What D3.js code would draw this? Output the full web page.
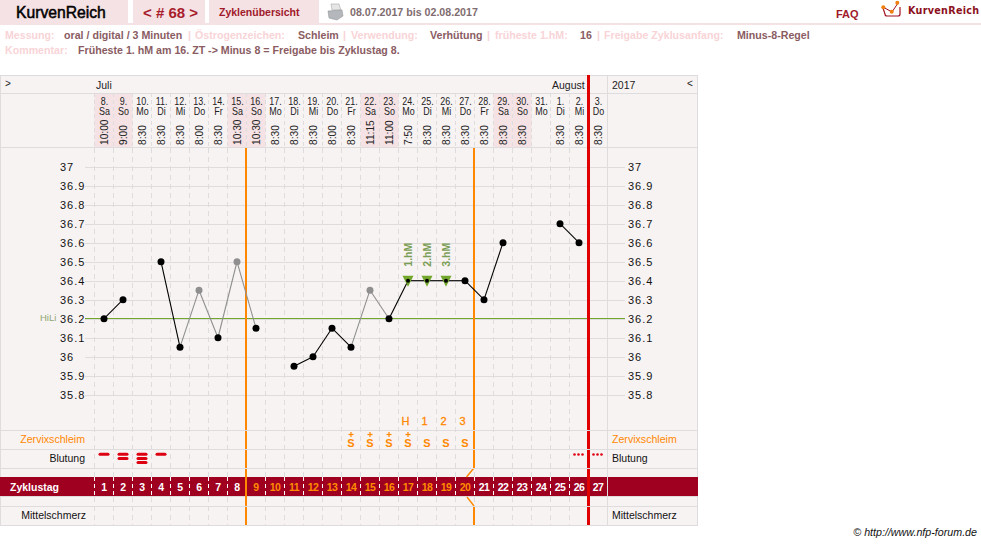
<!DOCTYPE html>
<html><head><meta charset="utf-8">
<script src="https://cdnjs.cloudflare.com/ajax/libs/d3/7.8.5/d3.min.js"></script>
<style>
html,body{margin:0;padding:0;background:#fff;overflow:hidden}
svg{display:block}
text{font-family:"Liberation Sans",Arial,sans-serif}
</style></head><body><svg id="c" width="981" height="545"></svg>
<script>
// ---- data ----
const cycleDays = d3.range(1, 28);
const dates = ["8.","9.","10.","11.","12.","13.","14.","15.","16.","17.","18.","19.","20.","21.","22.","23.","24.","25.","26.","27.","28.","29.","30.","31.","1.","2.","3."];
const weekdays = ["Sa","So","Mo","Di","Mi","Do","Fr","Sa","So","Mo","Di","Mi","Do","Fr","Sa","So","Mo","Di","Mi","Do","Fr","Sa","So","Mo","Di","Mi","Do"];
const times = ["10:00","9:00","8:30","8:30","8:30","8:00","8:30","10:30","10:30","8:30","8:30","8:30","8:00","8:30","11:15","11:00","7:50","8:30","8:30","8:30","8:30","8:30","8:30","","8:30","8:30","8:30"];
const temps = [36.2,36.3,null,36.5,36.05,36.35,36.1,36.5,36.15,null,35.95,36.0,36.15,36.05,36.35,36.2,36.4,36.4,36.4,36.4,36.3,36.6,null,null,36.7,36.6,null];
const excludedDays = [6,8,15];
const weekendDays = [1,2,8,9,15,16,22,23];
const tempTicks = [37,36.9,36.8,36.7,36.6,36.5,36.4,36.3,36.2,36.1,36,35.9,35.8];
const hiLi = 36.2;
const hmDays = [17,18,19];
const hmLabels = ["1.hM","2.hM","3.hM"];
const peakDays = [17,18,19,20];
const peakLabels = ["H","1","2","3"];
const mucusPlus = [14,15,16,17];
const mucusPlain = [18,19,20];
const bleedDays = [1,2,3,4];
const bleedLevels = [1,2,3,1];
const spotDays = [26,27];
const fertileStartDay = 8.5;
const fertileEndDay = 20.5;
const cycleEndDay = 26.5;
const headerLine1 = [["Messung:",0],["oral / digital / 3 Minuten",1],["|",0],["Östrogenzeichen:",0],["Schleim",1],["|",0],["Verwendung:",0],["Verhütung",1],["|",0],["früheste 1.hM:",0],["16",1],["|",0],["Freigabe Zyklusanfang:",0],["Minus-8-Regel",1]];
const headerLine1X = [5,64,188,195,298,343,351,430,487,495,580,597,604,737];

// ---- scales ----
const x = d3.scaleLinear().domain([1,27]).range([104,598]);
const y = d3.scaleLinear().domain([35.8,37]).range([394.7,166.7]);
const svg = d3.select("#c");
const GRID="#dedcdc", BG="#f8f3f3", PINK="#f5e2e4", DARK="#a00020", ORANGE="#ff8800", RED="#e00000", GREEN="#72a62c";
const line=(g,x1,y1,x2,y2,c,w,dash)=>g.append("line").attr("x1",x1).attr("y1",y1).attr("x2",x2).attr("y2",y2).attr("stroke",c).attr("stroke-width",w).attr("stroke-dasharray",dash||null);
const text=(g,s,px,py,o={})=>g.append("text").text(s).attr("x",px).attr("y",py).attr("font-size",o.size||11).attr("font-weight",o.bold?"bold":null).attr("font-style",o.italic?"italic":null).attr("fill",o.fill||"#111").attr("text-anchor",o.anchor||"start").style("letter-spacing",o.ls||null);

// ---- top bar ----
const topBar=svg.append("g");
[[0,128],[133,72],[209,110]].forEach(([a,w])=>topBar.append("rect").attr("x",a).attr("y",0).attr("width",w).attr("height",23).attr("fill",PINK));
topBar.append("rect").attr("x",0).attr("y",23).attr("width",981).attr("height",2).attr("fill",PINK);
text(topBar,"KurvenReich",16,18,{size:15.7,fill:"#000"}).attr("stroke","#000").attr("stroke-width",0.5);
text(topBar,"< # 68 >",143,18,{size:15,bold:true,fill:"#a81c2c"});
text(topBar,"Zyklenübersicht",219,16,{size:10.5,bold:true,fill:"#a0182a"});
text(topBar,"08.07.2017 bis 02.08.2017",350,16,{size:10.65,bold:true,fill:"#7f6c70"});
text(topBar,"FAQ",836,18,{size:11,bold:true,fill:"#a0182a"});
text(topBar,"KurvenReich",908,14,{size:9.6,bold:true,fill:"#8c1020",ls:"0.3px"}).style("font-family","'DejaVu Sans'");
// printer icon
const pr=topBar.append("g");
pr.append("path").attr("d","M331 4h8l2 6h-9z").attr("fill","#e6e6e6").attr("stroke","#aaa").attr("stroke-width",.6);
pr.append("path").attr("d","M328 11l14-1 1 6-6 4-8-2z").attr("fill","#b4b8bc").attr("stroke","#888").attr("stroke-width",.5);
// logo icon
const lg=topBar.append("g").attr("fill","none");
lg.append("path").attr("d","M883 8l2 6q0 2 2 2h11q2 0 2-2v-7").attr("stroke","#a01020").attr("stroke-width",1.2);
lg.append("path").attr("d","M883 7l9 5 6-9").attr("stroke","#a01020").attr("stroke-width",1);
[[883.3,7.3],[891.7,11.7],[897.3,2.7]].forEach(([a,b])=>lg.append("circle").attr("cx",a).attr("cy",b).attr("r",2).attr("fill","#f08010"));

// ---- settings lines ----
const info=svg.append("g");
headerLine1.forEach(([s,v],i)=>text(info,s,headerLine1X[i],39,{size:10.65,bold:true,fill:v?"#8a5c62":"#f8d4d7"}));
text(info,"Kommentar:",5,54,{size:10.65,bold:true,fill:"#f8d4d7"});
text(info,"Früheste 1. hM am 16. ZT -> Minus 8 = Freigabe bis Zyklustag 8.",78,54,{size:10.65,bold:true,fill:"#8a5c62"});

// ---- frame ----
const f=svg.append("g");
f.append("rect").attr("x",0.5).attr("y",75.5).attr("width",697).attr("height",450).attr("fill",BG).attr("stroke",GRID);
const colW=x(2)-x(1);
weekendDays.forEach(d=>f.append("rect").attr("x",x(d)-colW/2).attr("y",93).attr("width",colW).attr("height",54.5).attr("fill",PINK));
f.append("rect").attr("x",0).attr("y",477).attr("width",698).attr("height",19).attr("fill",DARK);

// row rules
const rowRules=[430.5,449.5,468.5,506.5];
[93.5,147.5,496.5].concat(rowRules).forEach(v=>line(f,0,v,697,v,GRID,1));
line(f,607.5,75,607.5,526,GRID,1);

// day separators
[0].concat(cycleDays.slice(0,-1)).forEach(d=>{
  const px=Math.floor(x(d)+colW/2)+.5;
  line(f,px,93,px,147,GRID,1,"4,3");
  line(f,px,148,px,477,GRID,1,"5,4");
  line(f,px,477,px,496,"#fff",1,"4,3");
  line(f,px,497,px,525,GRID,1,"5,4");
});

// grid & tick labels
const axisG=svg.append("g");
tempTicks.forEach(t=>{
  const py=Math.round(y(t))+.5;
  line(axisG,85,py,625,py,GRID,1);
  text(axisG,String(t),60,py+3.5,{size:11,fill:"#111",ls:"1px"});
  text(axisG,String(t),628,py+3.5,{size:11,fill:"#111",ls:"1px"});
});

// header text
text(f,">",5,86.5,{size:10,fill:"#222"});
text(f,"Juli",96,89,{size:10.5,fill:"#222"});
text(f,"August",552,89,{size:10.5,fill:"#222"});
text(f,"2017",612,89,{size:10.5,fill:"#222"});
text(f,"<",687,86.5,{size:10,fill:"#222"});
cycleDays.forEach((d,i)=>{
  const cx=x(d)+.5;
  const g=f.append("g");
  g.append("text").text(dates[i]).attr("transform",`translate(${cx},105) scale(.85,1)`).attr("text-anchor","middle").attr("font-size",10.5).attr("fill","#222");
  g.append("text").text(weekdays[i]).attr("transform",`translate(${cx},115) scale(.85,1)`).attr("text-anchor","middle").attr("font-size",10.5).attr("fill","#222");
  if(times[i]) g.append("text").text(times[i]).attr("transform",`translate(${cx+3.5},145) rotate(-90)`).attr("font-size",10.2).attr("fill","#222");
});

// row labels
text(f,"Zervixschleim",85,443,{size:10.6,fill:ORANGE,anchor:"end"});
text(f,"Blutung",85,462,{size:10.5,fill:"#111",anchor:"end"});
text(f,"Zyklustag",10,491,{size:10.5,bold:true,fill:"#fff"});
text(f,"Mittelschmerz",86,519,{size:10.5,fill:"#111",anchor:"end"});
text(f,"Zervixschleim",612,443,{size:10.6,fill:ORANGE});
text(f,"Blutung",612,462,{size:10.5,fill:"#111"});
text(f,"Mittelschmerz",612,519,{size:10.5,fill:"#111"});

// cycle numbers
cycleDays.forEach(d=>text(f,d,x(d),491,{size:10.5,bold:true,anchor:"middle",ls:"-0.5px",fill:(d>=fertileStartDay&&d<=fertileEndDay)?"#ff8c00":"#fff"}));

// HiLi
const hiY=Math.floor(y(hiLi))+.5;
line(axisG,85,hiY,625,hiY,GREEN,1.2);
text(axisG,"HiLi",40,321,{size:9.5,fill:"#8da672"});

// fertile markers
const fg=svg.append("g").attr("fill","none");
const fx=x(fertileStartDay)-.5, fx2=x(fertileEndDay)-.5;
line(fg,fx,148,fx,525,ORANGE,2);
fg.append("path").attr("d",`M${fx2} 148V468`).attr("stroke",ORANGE).attr("stroke-width",2);
fg.append("path").attr("d",`M${fx2} 468L${fx2-7.5} 477`).attr("stroke",ORANGE).attr("stroke-width",1.4);
fg.append("path").attr("d",`M${fx2-7} 497L${fx2} 506`).attr("stroke",ORANGE).attr("stroke-width",1.4);
fg.append("path").attr("d",`M${fx2} 506V525`).attr("stroke",ORANGE).attr("stroke-width",2);
line(fg,x(cycleEndDay),75,x(cycleEndDay),525,RED,3);
rowRules.forEach(v=>line(svg,0,v,697,v,GRID,1));

// temperature lines
const lg2=svg.append("g");
const isEx=d=>excludedDays.includes(d);
for(let i=0;i<temps.length-1;i++){
  if(temps[i]==null||temps[i+1]==null) continue;
  const a=cycleDays[i], b=cycleDays[i+1];
  const grey=isEx(a)||isEx(b);
  line(lg2,x(a),y(temps[i]),x(b),y(temps[i+1]),grey?"#8f8f8f":"#000",1.1);
}

// hM triangles
hmDays.forEach((d,i)=>{
  const py=y(temps[d-1]), px=x(d);
  lg2.append("path").attr("d",`M${px-5.5} ${py-5}H${px+5.5}L${px} ${py+6}Z`).attr("fill",GREEN);
  lg2.append("text").text(hmLabels[i]).attr("transform",`translate(${px+4},${py-14}) rotate(-90)`).attr("font-size",10.5).attr("font-weight","bold").attr("fill","#7a9e55");
});

// points
cycleDays.forEach((d,i)=>{
  if(temps[i]==null) return;
  const tri=hmDays.includes(d);
  lg2.append("circle").attr("cx",x(d)).attr("cy",y(temps[i])).attr("r",tri?2:3.5).attr("fill",isEx(d)?"#8f8f8f":"#000");
});

// peak letters
peakDays.forEach((d,i)=>text(svg,peakLabels[i],x(d)-2.5,425,{size:11,fill:ORANGE,anchor:"middle"}).attr("stroke",ORANGE).attr("stroke-width",.3));

// mucus
mucusPlus.forEach(d=>{
  line(svg,x(d)-2.5,434.5,x(d)+2.5,434.5,ORANGE,1.2);
  line(svg,x(d),432,x(d),437,ORANGE,1.2);
  text(svg,"S",x(d),447,{size:11,bold:true,fill:ORANGE,anchor:"middle"});
});
mucusPlain.forEach(d=>text(svg,"S",x(d),447,{size:11,bold:true,fill:ORANGE,anchor:"middle"}));

// bleeding
bleedDays.forEach((d,i)=>{
  d3.range(bleedLevels[i]).forEach(k=>{
    svg.append("rect").attr("x",x(d)-5.5).attr("y",452.8+k*4.1).attr("width",11).attr("height",3).attr("rx",1.5).attr("fill","#dd0010");
  });
});
spotDays.forEach(d=>{
  [-4,0,4].forEach(o=>svg.append("circle").attr("cx",x(d)-.5+o).attr("cy",454.5).attr("r",1.3).attr("fill","#e00010"));
});

// footer
text(svg,"© http://www.nfp-forum.de",977,536,{size:10.7,italic:true,fill:"#111",anchor:"end"});
</script></body></html>
